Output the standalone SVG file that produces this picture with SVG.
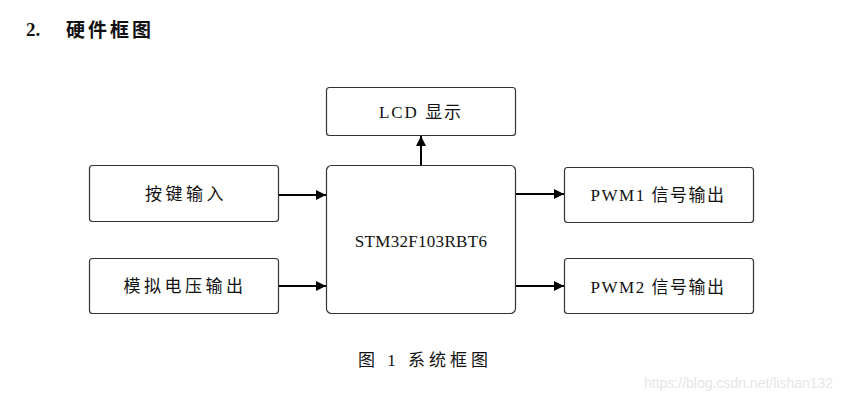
<svg xmlns="http://www.w3.org/2000/svg" width="868" height="400" viewBox="0 0 868 400">
<style>
.box{fill:#fff;stroke:#333;stroke-width:1.2}
.lbl{font-family:"Liberation Serif","Noto Sans CJK SC",serif;font-size:17px;fill:#111;text-anchor:middle;letter-spacing:2px}
.zh{letter-spacing:3.5px}
.conn{stroke:#000;stroke-width:2;fill:none}
</style>
<defs>
<marker id="ah" viewBox="0 0 10 10" refX="10" refY="5" markerWidth="10" markerHeight="10" markerUnits="userSpaceOnUse" orient="auto">
<path d="M0,0 L10,5 L0,10 Z" fill="#000"/>
</marker>
</defs>
<rect width="868" height="400" fill="#fff"/>
<text x="26" y="36" font-family="'Liberation Serif','Noto Sans CJK SC',serif" font-size="19" font-weight="bold" fill="#111">2.</text>
<text x="66" y="37" font-family="'Noto Sans CJK SC',sans-serif" font-size="19" font-weight="bold" fill="#111" letter-spacing="3">硬件框图</text>
<g id="lcd"><rect class="box" x="326.5" y="87.5" width="189" height="48" rx="3"/><text class="lbl" x="421" y="118">LCD 显示</text></g>
<g id="key"><rect class="box" x="89.5" y="165.5" width="189" height="56" rx="3"/><text class="lbl zh" x="186" y="200">按键输入</text></g>
<g id="mcu"><rect class="box" x="326.5" y="165.5" width="189" height="148" rx="5"/><text class="lbl" x="421" y="247" style="letter-spacing:0.3px">STM32F103RBT6</text></g>
<g id="analog"><rect class="box" x="89.5" y="258.5" width="189" height="55" rx="3"/><text class="lbl zh" x="185" y="292">模拟电压输出</text></g>
<g id="pwm1"><rect class="box" x="564.5" y="167.5" width="189" height="55" rx="3"/><text class="lbl" x="658" y="201" style="letter-spacing:1.5px">PWM1 信号输出</text></g>
<g id="pwm2"><rect class="box" x="564.5" y="258.5" width="189" height="55" rx="3"/><text class="lbl" x="658" y="293" style="letter-spacing:1.5px">PWM2 信号输出</text></g>
<g id="connectors">
<line class="conn" x1="279" y1="195" x2="326" y2="195" marker-end="url(#ah)"/>
<line class="conn" x1="279" y1="286" x2="326" y2="286" marker-end="url(#ah)"/>
<line class="conn" x1="516" y1="194" x2="564" y2="194" marker-end="url(#ah)"/>
<line class="conn" x1="516" y1="286" x2="564" y2="286" marker-end="url(#ah)"/>
<line class="conn" x1="421" y1="165" x2="421" y2="136" marker-end="url(#ah)"/>
</g>
<text x="358" y="366" font-family="'Liberation Serif','Noto Sans CJK SC',serif" font-size="17" fill="#111" letter-spacing="4">图 1 系统框图</text>
<text x="644" y="388" font-family="'Liberation Sans',sans-serif" font-size="14" fill="#e6e6e6">https://blog.csdn.net/lishan132</text>
</svg>
